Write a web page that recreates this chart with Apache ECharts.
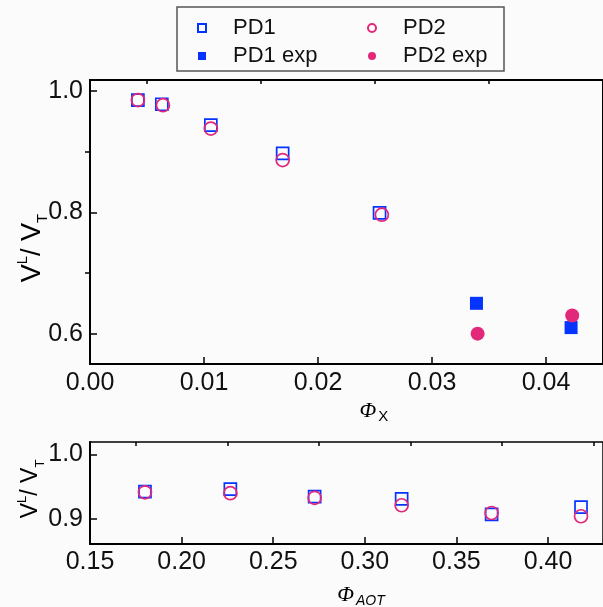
<!DOCTYPE html>
<html>
<head>
<meta charset="utf-8">
<script src="https://cdn.jsdelivr.net/npm/echarts@6/dist/echarts.min.js"></script>
<style>
  html, body { margin: 0; padding: 0; background: #fbfbfb; }
  #chart { width: 603px; height: 607px; }
</style>
</head>
<body>
<div id="chart"></div>
<script>
// Upper panel: volume ratio against the X volume fraction
const phiX_PD1 = [0.0042, 0.0063, 0.0106, 0.0169, 0.0254];
const ratio_PD1 = [0.985, 0.978, 0.9435, 0.897, 0.799];
const phiX_PD2 = [0.0042, 0.0064, 0.0106, 0.0169, 0.0256];
const ratio_PD2 = [0.985, 0.9765, 0.938, 0.886, 0.796];
const phiX_PD1exp = [0.0339, 0.0422];
const ratio_PD1exp = [0.65, 0.61];
const phiX_PD2exp = [0.0340, 0.0423];
const ratio_PD2exp = [0.60, 0.63];

// Lower panel: volume ratio against the AOT volume fraction
const phiAOT = [0.18, 0.2266, 0.2726, 0.3201, 0.3692, 0.418];
const ratioAOT_PD1 = [0.942, 0.946, 0.9345, 0.931, 0.907, 0.918];
const ratioAOT_PD2 = [0.941, 0.9397, 0.9325, 0.921, 0.909, 0.904];

// Tick positions
const topXMajor = [0, 0.01, 0.02, 0.03, 0.04];
const topXMinor = [0.005, 0.015, 0.025, 0.035, 0.045];
const topYMajor = [0.6, 0.8, 1.0];
const topYMinor = [0.7, 0.9];
const botXMajor = [0.15, 0.20, 0.25, 0.30, 0.35, 0.40];
const botXMinor = [0.175, 0.225, 0.275, 0.325, 0.375, 0.425];
const botYMajor = [0.9, 1.0];

const BLUE = '#0533ff';
const PINK = '#e2287a';
const FONT = '"Liberation Sans", Arial, sans-serif';
const INK = '#111';

const zip = (xs, ys) => xs.map((x, i) => [x, ys[i]]);

function majorX(grid, min, max, ticks, digits, margin) {
  return {
    type: 'value', gridIndex: grid, min: min, max: max,
    axisLine: { show: true, lineStyle: { color: '#000', width: 2 } },
    axisTick: { show: true, inside: true, length: 7, customValues: ticks, lineStyle: { color: '#000', width: 1.5 } },
    axisLabel: { show: true, customValues: ticks, margin: margin, fontSize: 25, fontFamily: FONT, color: INK,
                 formatter: v => v.toFixed(digits) },
    splitLine: { show: false }
  };
}
function minorX(grid, min, max, ticks) {
  return {
    type: 'value', gridIndex: grid, min: min, max: max,
    axisLine: { show: false },
    axisTick: { show: true, inside: true, length: 4, customValues: ticks, lineStyle: { color: '#000', width: 1.5 } },
    axisLabel: { show: false },
    splitLine: { show: false }
  };
}
function majorY(grid, min, max, ticks, len) {
  return {
    type: 'value', gridIndex: grid, min: min, max: max,
    axisLine: { show: true, lineStyle: { color: '#000', width: 2 } },
    axisTick: { show: true, inside: true, length: len, customValues: ticks, lineStyle: { color: '#000', width: 1.5 } },
    axisLabel: { show: true, customValues: ticks, margin: 7, fontSize: 25, fontFamily: FONT, color: INK,
                 formatter: v => v.toFixed(1) },
    splitLine: { show: false }
  };
}
function minorY(grid, min, max, ticks) {
  return {
    type: 'value', gridIndex: grid, min: min, max: max,
    axisLine: { show: false },
    axisTick: { show: true, inside: true, length: 5, customValues: ticks, lineStyle: { color: '#000', width: 1.5 } },
    axisLabel: { show: false },
    splitLine: { show: false }
  };
}

const hollowSquare = { color: 'transparent', borderColor: BLUE, borderWidth: 1.7, opacity: 1 };
const hollowCircle = { color: 'transparent', borderColor: PINK, borderWidth: 1.7, opacity: 1 };

const ratioRich = size => ({
  v: { fontSize: size, fontFamily: FONT, color: INK, lineHeight: size + 8 },
  sup: { fontSize: Math.round(size * 0.55), fontFamily: FONT, color: INK, verticalAlign: 'top', lineHeight: size * 0.6 },
  sub: { fontSize: Math.round(size * 0.55), fontFamily: FONT, color: INK, verticalAlign: 'bottom', lineHeight: size * 0.6 }
});
const phiRich = {
  phi: { fontSize: 22, fontFamily: '"Liberation Serif", "Times New Roman", serif', fontStyle: 'italic', color: INK, lineHeight: 26 },
  sub: { fontSize: 15, fontFamily: FONT, color: '#333', verticalAlign: 'bottom', lineHeight: 12, padding: [0, 0, 0, 2] },
  subi: { fontSize: 14, fontFamily: FONT, fontStyle: 'italic', color: '#333', verticalAlign: 'bottom', lineHeight: 12, padding: [0, 0, 0, 2] }
};

const legendCommon = {
  orient: 'vertical', itemWidth: 8, itemHeight: 8, itemGap: 6, padding: 0,
  formatter: name => '{g| }' + name,
  textStyle: { fontSize: 22, fontFamily: FONT, color: INK, lineHeight: 22,
               rich: { g: { width: 22, fontSize: 22 } } }
};

const chart = echarts.init(document.getElementById('chart'), null, { renderer: 'canvas' });
chart.setOption({
  backgroundColor: '#fbfbfb',
  animation: false,
  grid: [
    { left: 90, top: 80, width: 516, height: 284, show: true, borderColor: '#000', borderWidth: 2, backgroundColor: 'transparent' },
    { left: 90, top: 442, width: 516, height: 102, show: true, borderColor: '#000', borderWidth: 1.5, backgroundColor: 'transparent' }
  ],
  xAxis: [
    majorX(0, 0, 0.045, topXMajor, 2, 7),
    minorX(0, 0, 0.045, topXMinor),
    majorX(1, 0.15, 0.43, botXMajor, 2, 6),
    minorX(1, 0.15, 0.43, botXMinor)
  ],
  yAxis: [
    majorY(0, 0.55, 1.018, topYMajor, 7),
    minorY(0, 0.55, 1.018, topYMinor),
    majorY(1, 0.861, 1.019, botYMajor, 7)
  ],
  legend: [
    Object.assign({ left: 197, top: 17, data: ['PD1', 'PD1 exp'] }, legendCommon),
    Object.assign({ left: 367, top: 17, data: ['PD2', 'PD2 exp'] }, legendCommon)
  ],
  graphic: [
    { type: 'rect', shape: { x: 177, y: 7, width: 327, height: 64 },
      style: { fill: 'none', stroke: '#555', lineWidth: 1.5 }, z: 10 },
    { type: 'text', x: 33, y: 248, rotation: Math.PI / 2,
      style: { text: '{v|V}{sup|L}{v|/ V}{sub|T}', rich: ratioRich(27), align: 'center', verticalAlign: 'middle' } },
    { type: 'text', x: 31, y: 489, rotation: Math.PI / 2,
      style: { text: '{v|V}{sup|L}{v|/ V}{sub|T}', rich: ratioRich(23), align: 'center', verticalAlign: 'middle' } },
    { type: 'text', x: 374, y: 411,
      style: { text: '{phi|Φ}{sub|X}', rich: phiRich, align: 'center', verticalAlign: 'middle' } },
    { type: 'text', x: 361, y: 595,
      style: { text: '{phi|Φ}{subi|AOT}', rich: phiRich, align: 'center', verticalAlign: 'middle' } }
  ],
  series: [
    { name: 'PD1', type: 'scatter', xAxisIndex: 0, yAxisIndex: 0, symbol: 'rect', symbolSize: 12,
      itemStyle: hollowSquare, data: zip(phiX_PD1, ratio_PD1) },
    { name: 'PD1', type: 'scatter', xAxisIndex: 2, yAxisIndex: 2, symbol: 'rect', symbolSize: 12,
      itemStyle: hollowSquare, data: zip(phiAOT, ratioAOT_PD1) },
    { name: 'PD1 exp', type: 'scatter', xAxisIndex: 0, yAxisIndex: 0, symbol: 'rect', symbolSize: 13,
      itemStyle: { color: BLUE, opacity: 1 }, data: zip(phiX_PD1exp, ratio_PD1exp) },
    { name: 'PD2', type: 'scatter', xAxisIndex: 0, yAxisIndex: 0, symbol: 'circle', symbolSize: 13,
      itemStyle: hollowCircle, data: zip(phiX_PD2, ratio_PD2) },
    { name: 'PD2', type: 'scatter', xAxisIndex: 2, yAxisIndex: 2, symbol: 'circle', symbolSize: 13,
      itemStyle: hollowCircle, data: zip(phiAOT, ratioAOT_PD2) },
    { name: 'PD2 exp', type: 'scatter', xAxisIndex: 0, yAxisIndex: 0, symbol: 'circle', symbolSize: 14,
      itemStyle: { color: PINK, opacity: 1 }, data: zip(phiX_PD2exp, ratio_PD2exp) }
  ]
});
</script>
</body>
</html>
